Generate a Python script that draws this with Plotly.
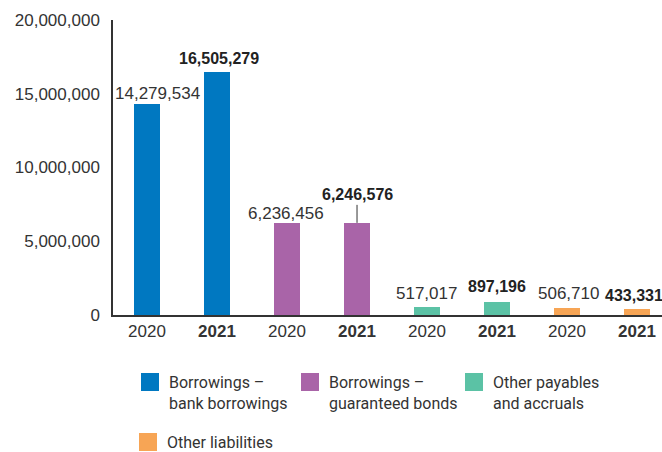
import plotly.graph_objects as go

# ---- data ----
categories = ["Borrowings –<br>bank borrowings", "Borrowings –<br>guaranteed bonds",
              "Other payables<br>and accruals", "Other liabilities"]
years = ["2020", "2021"]
values_2020 = [14279534, 6236456, 517017, 506710]
values_2021 = [16505279, 6246576, 897196, 433331]
y_ticks = [0, 5000000, 10000000, 15000000, 20000000]
y_tick_labels = ["0", "5,000,000", "10,000,000", "15,000,000", "20,000,000"]

# ---- styles ----
colors = ["#0078C1", "#A964A8", "#5BC2A5", "#F7A555"]
TXT = "#333333"
FONT = "Liberation Sans"
L, R, T, B = 113, 662, 20, 315
W, H = 662, 452

def px(xp):
    return (xp - L) / (R - L)

def py(yp):
    return (B - yp) / (B - T)

fig = go.Figure()
tickvals, ticktext = [], []
annotations = []
# label offsets (xshift, yshift) per bar, in pixels
offsets = [[(10, 11), (2, 13.5)], [(-1, 10), None], [(-1, 14), (0, 15)], [(1, 14.5), (-3, 13.5)]]

for i, cat in enumerate(categories):
    xs = [2 * i, 2 * i + 1]
    vals = [values_2020[i], values_2021[i]]
    fig.add_trace(go.Bar(x=xs, y=vals, marker=dict(color=colors[i], line=dict(width=0)),
                         width=0.37, name=cat.replace("<br>", " "), showlegend=False,
                         hoverinfo="skip"))
    for j, (x, v) in enumerate(zip(xs, vals)):
        tickvals.append(x)
        ticktext.append(years[j] if j == 0 else "<b>" + years[j] + "</b>")
        label = f"{v:,}"
        if j == 1:
            label = "<b>" + label + "</b>"
        fnt = dict(family=FONT, size=17 if j == 0 else 16, color=TXT if j == 0 else "#222222")
        off = offsets[i][j]
        if off is None:
            annotations.append(dict(x=x, y=v, xref="x", yref="y", text=label, font=fnt,
                                    showarrow=True, arrowhead=0, arrowwidth=1, arrowcolor="#333333",
                                    ax=0, ay=-28, standoff=0, startstandoff=0))
        else:
            annotations.append(dict(x=x, y=v, xref="x", yref="y", text=label, font=fnt,
                                    showarrow=False, xanchor="center", yanchor="middle",
                                    xshift=off[0], yshift=off[1]))

# ---- manual legend ----
legend_pos = [(141, 373), (301, 373), (465, 373), (139, 433)]
shapes = []
for i, cat in enumerate(categories):
    x0, y0 = legend_pos[i]
    shapes.append(dict(type="rect", xref="paper", yref="paper",
                       x0=px(x0), x1=px(x0 + 18), y0=py(y0), y1=py(y0 + 18),
                       fillcolor=colors[i], line=dict(width=0)))
    annotations.append(dict(x=px(x0 + 26), y=py(y0 - 2), xref="paper", yref="paper",
                            text=cat, showarrow=False, xanchor="left", yanchor="top",
                            align="left", font=dict(family="Roboto", size=16, color=TXT)))

fig.update_layout(
    width=W, height=H,
    margin=dict(l=L, r=W - R, t=T, b=H - B),
    paper_bgcolor="white", plot_bgcolor="white",
    bargap=0,
    xaxis=dict(range=[-0.486, 7.357], tickmode="array", tickvals=tickvals, ticktext=ticktext,
               showgrid=False, zeroline=False, showline=True, linecolor="#333333", linewidth=1.5,
               ticks="", tickfont=dict(family=FONT, size=17, color=TXT), fixedrange=True),
    yaxis=dict(range=[0, 20000000], tickmode="array", tickvals=y_ticks, ticktext=y_tick_labels,
               showgrid=False, zeroline=False, showline=True, linecolor="#333333", linewidth=1.5,
               ticks="", tickfont=dict(family=FONT, size=17, color=TXT), ticklabelstandoff=8,
               fixedrange=True),
    annotations=annotations,
    shapes=shapes,
)

fig.write_html("out.html")
